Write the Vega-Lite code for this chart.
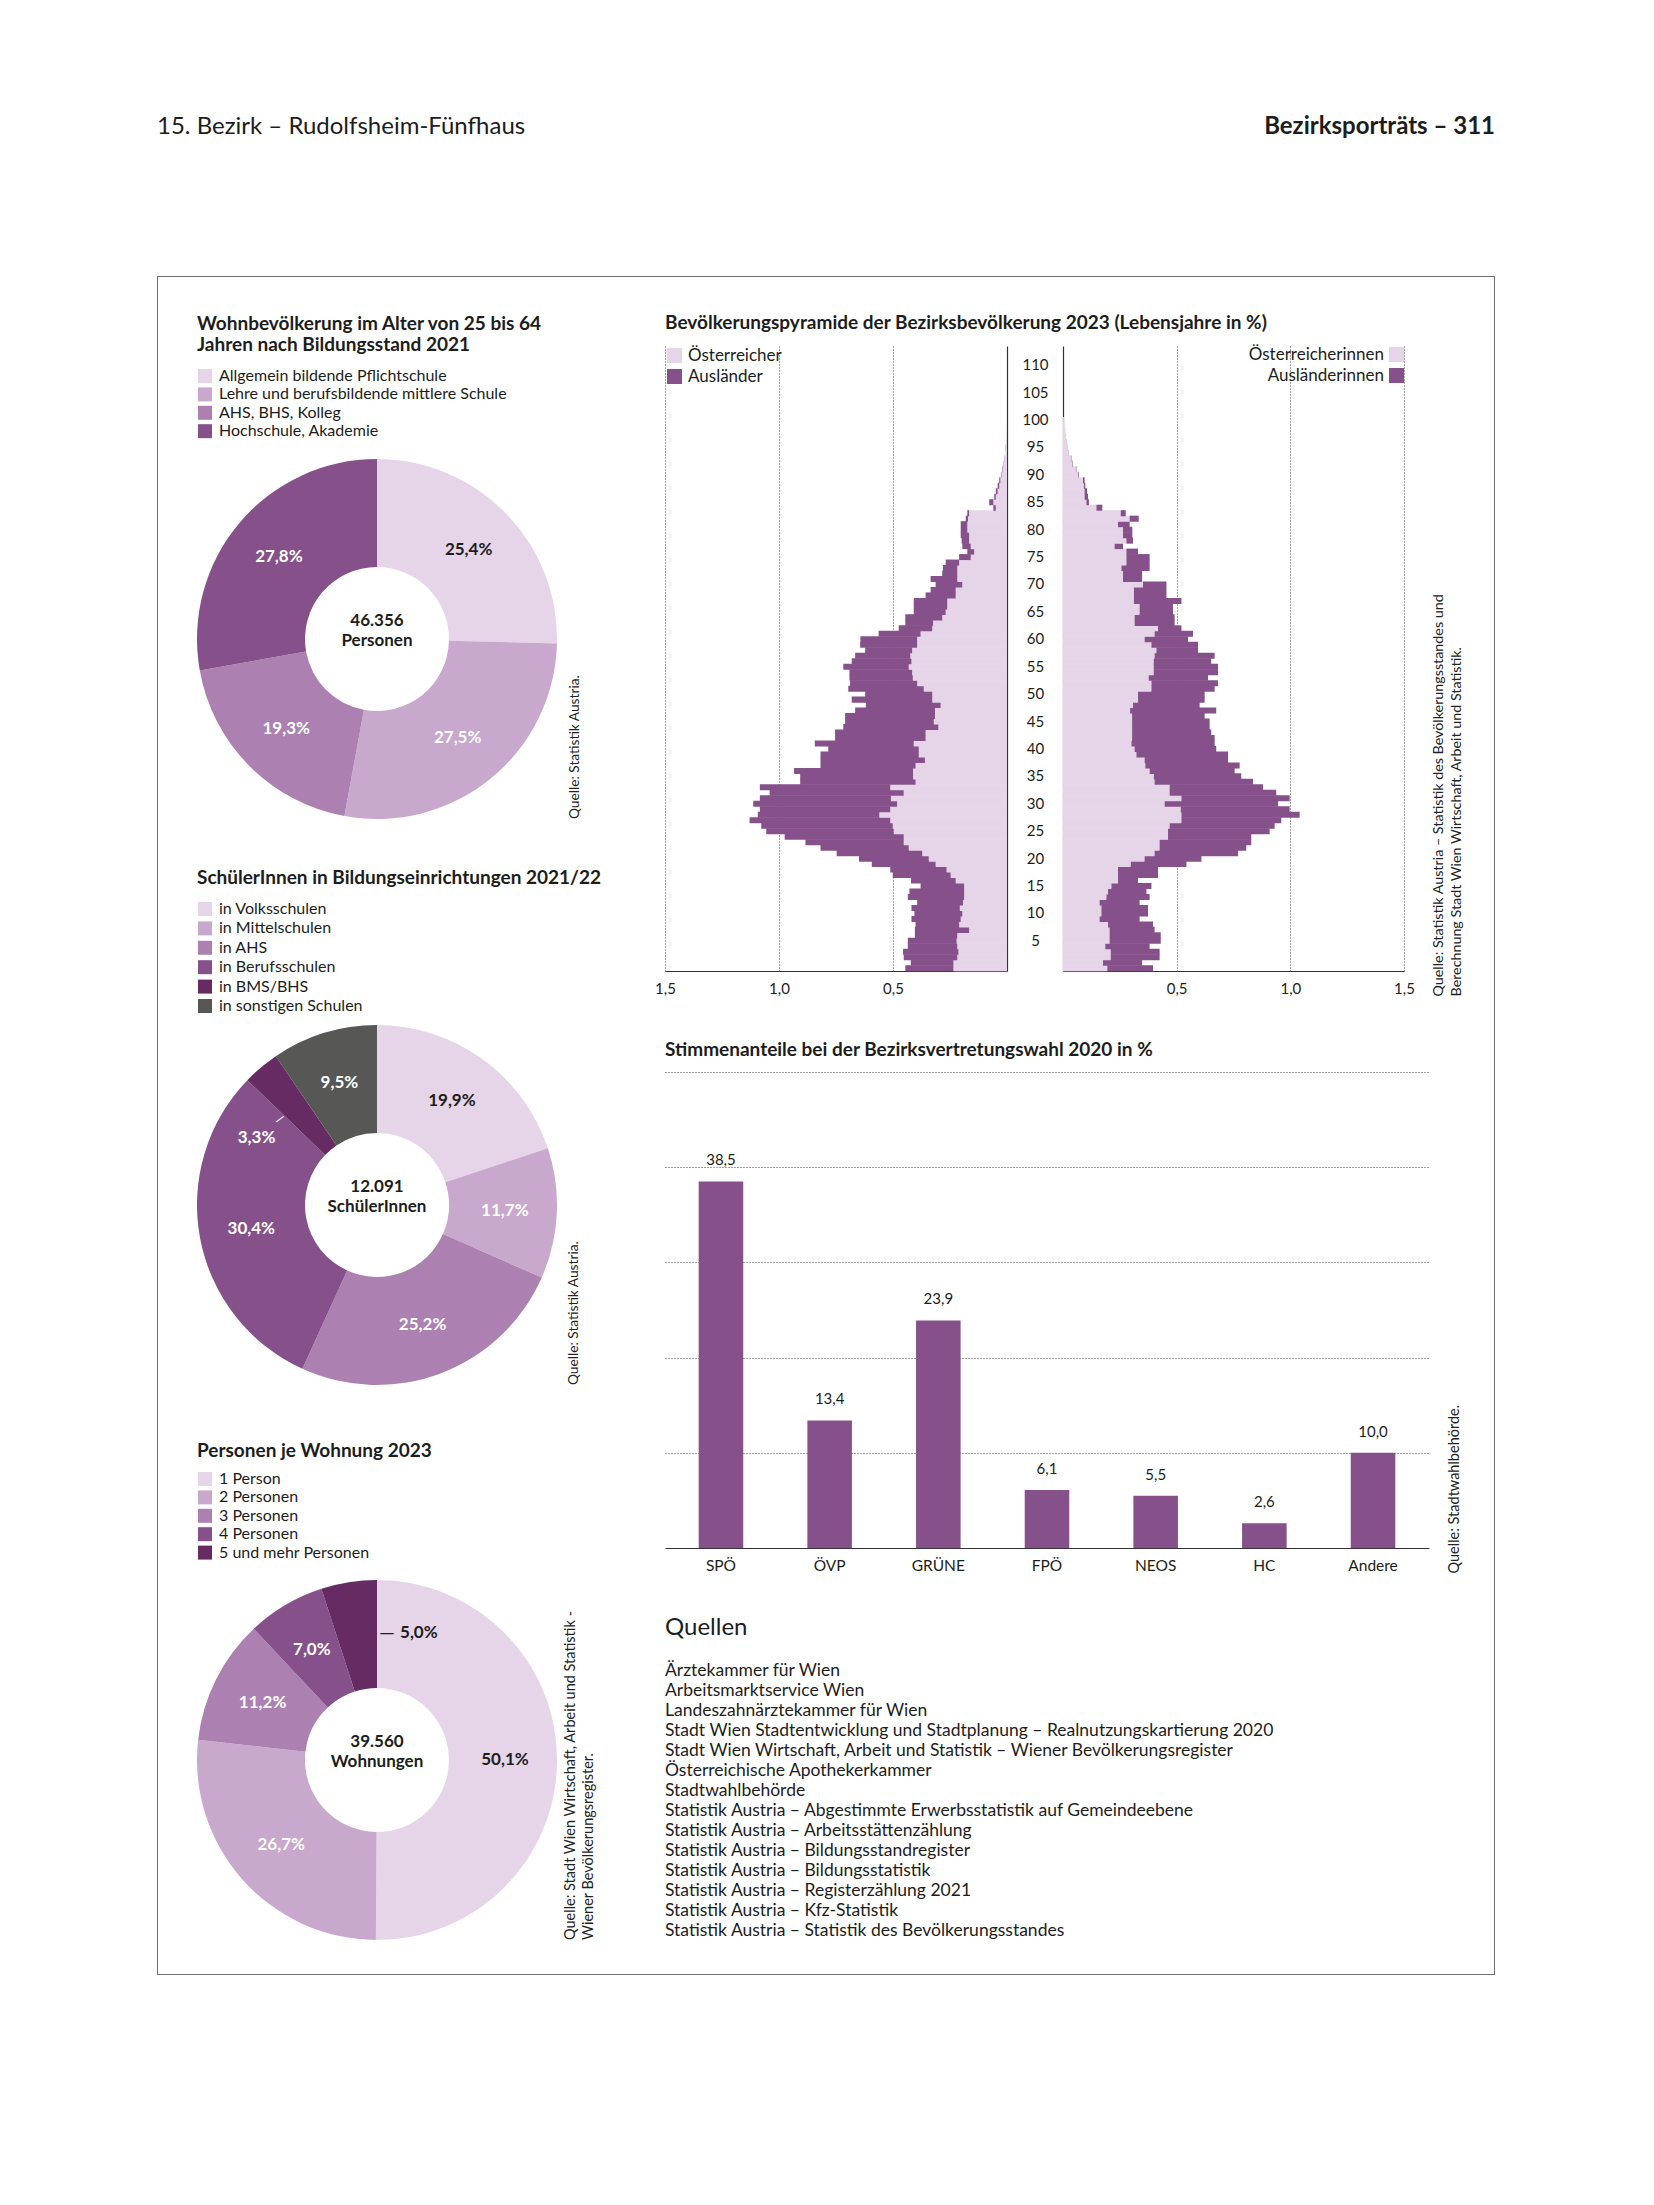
{
  "$schema": "https://vega.github.io/schema/vega-lite/v6.json",
  "padding": {"left": 157, "top": 110, "right": 20, "bottom": 20},
  "background": "white",
  "spacing": 132,
  "resolve": {"scale": {"color": "independent", "theta": "independent", "x": "independent", "y": "independent"}},
  "vconcat": [
    {
      "width": 1338, "height": 34,
      "data": {"values": [{"t": "15. Bezirk – Rudolfsheim-Fünfhaus", "p": "l"}, {"t": "Bezirksporträts – 311", "p": "r"}]},
      "encoding": {
        "x": {"field": "p", "type": "nominal", "scale": {"type": "point", "domain": ["l", "r"], "padding": 0}, "axis": null},
        "text": {"field": "t"}
      },
      "layer": [
        {"transform": [{"filter": "datum.p == 'l'"}], "mark": {"type": "text", "align": "left", "baseline": "middle", "fontSize": 24, "color": "#1d1d1b"}},
        {"transform": [{"filter": "datum.p == 'r'"}], "mark": {"type": "text", "align": "right", "baseline": "middle", "fontSize": 24, "fontWeight": "bold", "color": "#1d1d1b"}}
      ]
    },
    {
      "spacing": 0,
      "resolve": {"scale": {"color": "independent", "theta": "independent", "x": "independent", "y": "independent"}},
      "vconcat": [
        {"width": 1338, "height": 1, "view": {"fill": "#707070", "stroke": null}, "data": {"values": []}, "mark": {"type": "text"}, "encoding": {"text": {"value": ""}}},
        {
          "spacing": 0,
          "resolve": {"scale": {"color": "independent", "theta": "independent", "x": "independent", "y": "independent"}},
          "hconcat": [
            {"width": 1, "height": 1697, "view": {"fill": "#707070", "stroke": null}, "data": {"values": []}, "mark": {"type": "text"}, "encoding": {"text": {"value": ""}}},
            {
              "spacing": 20,
              "resolve": {"scale": {"color": "independent", "theta": "independent", "x": "independent", "y": "independent"}},
              "hconcat": [
                {"width": 19, "height": 1, "data": {"values": []}, "mark": {"type": "text"}, "encoding": {"text": {"value": ""}}},
                {
                  "spacing": 57,
                  "resolve": {"scale": {"color": "independent", "theta": "independent", "x": "independent", "y": "independent"}},
                  "vconcat": [
                    {
                      "spacing": 0,
                      "resolve": {"scale": {"color": "independent", "theta": "independent", "x": "independent", "y": "independent"}},
                      "vconcat": [
                        {"width": 437, "height": 38, "data": {"values": []}, "mark": {"type": "text"}, "encoding": {"text": {"value": ""}}},
                        {
                          "spacing": 50,
                          "resolve": {"scale": {"color": "independent", "theta": "independent", "x": "independent", "y": "independent"}},
                          "vconcat": [
                            {
                              "width": 360, "height": 360,
                              "title": {"text": "Quelle: Statistik Austria.", "orient": "right", "anchor": "end", "angle": 270, "align": "left", "baseline": "top", "offset": -2.5, "fontSize": 13.7, "fontWeight": "normal", "color": "#222222"},
                              "data": {"values": [
                                {"k": "Allgemein bildende Pflichtschule", "v": 25.4, "i": 1, "lab": "25,4%"},
                                {"k": "Lehre und berufsbildende mittlere Schule", "v": 27.5, "i": 2, "lab": "27,5%"},
                                {"k": "AHS, BHS, Kolleg", "v": 19.3, "i": 3, "lab": "19,3%"},
                                {"k": "Hochschule, Akademie", "v": 27.8, "i": 4, "lab": "27,8%"}
                              ]},
                              "layer": [
                                {
                                  "mark": {"type": "arc", "radius": 180, "innerRadius": 72},
                                  "encoding": {
                                    "theta": {"field": "v", "type": "quantitative", "stack": true},
                                    "order": {"field": "i", "type": "quantitative"},
                                    "color": {"field": "k", "type": "nominal",
                                      "scale": {"domain": ["Allgemein bildende Pflichtschule", "Lehre und berufsbildende mittlere Schule", "AHS, BHS, Kolleg", "Hochschule, Akademie"], "range": ["#e6d5e8", "#c8a8cc", "#ac80b1", "#86518a"]},
                                      "legend": {"title": ["Wohnbevölkerung im Alter von 25 bis 64", "Jahren nach Bildungsstand 2021"], "orient": "top", "direction": "vertical", "offset": 19.5, "titlePadding": 13, "rowPadding": 2.4}}
                                  }
                                },
                                {
                                  "mark": {"type": "text", "radius": 128, "fontSize": 17, "fontWeight": "bold"},
                                  "encoding": {
                                    "theta": {"field": "v", "type": "quantitative", "stack": true},
                                    "order": {"field": "i", "type": "quantitative"},
                                    "detail": {"field": "k"},
                                    "text": {"field": "lab"},
                                    "fill": {"condition": {"test": "datum.i == 1", "value": "#1d1d1b"}, "value": "#ffffff"}
                                  }
                                },
                                {
                                  "data": {"values": [{}]},
                                  "mark": {"type": "text", "fontSize": 17, "fontWeight": "bold", "lineHeight": 20, "dy": -18, "color": "#1d1d1b"},
                                  "encoding": {"text": {"value": ["46.356", "Personen"]}}
                                }
                              ]
                            },
                            {
                              "width": 360, "height": 360,
                              "title": {"text": "Quelle: Statistik Austria.", "orient": "right", "anchor": "end", "angle": 270, "align": "left", "baseline": "top", "offset": -48, "fontSize": 13.7, "fontWeight": "normal", "color": "#222222"},
                              "data": {"values": [
                                {"k": "in Volksschulen", "v": 19.9, "i": 1, "lab": "19,9%"},
                                {"k": "in Mittelschulen", "v": 11.7, "i": 2, "lab": "11,7%"},
                                {"k": "in AHS", "v": 25.2, "i": 3, "lab": "25,2%"},
                                {"k": "in Berufsschulen", "v": 30.4, "i": 4, "lab": "30,4%"},
                                {"k": "in BMS/BHS", "v": 3.3, "i": 5, "lab": "3,3%"},
                                {"k": "in sonstigen Schulen", "v": 9.5, "i": 6, "lab": "9,5%"}
                              ]},
                              "layer": [
                                {
                                  "mark": {"type": "arc", "radius": 180, "innerRadius": 72},
                                  "encoding": {
                                    "theta": {"field": "v", "type": "quantitative", "stack": true},
                                    "order": {"field": "i", "type": "quantitative"},
                                    "color": {"field": "k", "type": "nominal",
                                      "scale": {"domain": ["in Volksschulen", "in Mittelschulen", "in AHS", "in Berufsschulen", "in BMS/BHS", "in sonstigen Schulen"], "range": ["#e6d5e8", "#c8a8cc", "#ac80b1", "#86518a", "#672b64", "#575756"]},
                                      "legend": {"title": "SchülerInnen in Bildungseinrichtungen 2021/22", "orient": "top", "direction": "vertical", "offset": 11, "titlePadding": 13, "rowPadding": 3.4}}
                                  }
                                },
                                {
                                  "mark": {"type": "text", "radius": 128, "fontSize": 17, "fontWeight": "bold"},
                                  "encoding": {
                                    "theta": {"field": "v", "type": "quantitative", "stack": true},
                                    "order": {"field": "i", "type": "quantitative"},
                                    "detail": {"field": "k"},
                                    "text": {"condition": {"test": "datum.i == 5", "value": ""}, "field": "lab"},
                                    "fill": {"condition": {"test": "datum.i == 1", "value": "#1d1d1b"}, "value": "#ffffff"}
                                  }
                                },
                                {
                                  "mark": {"type": "text", "radius": 138, "thetaOffset": -0.361, "fontSize": 17, "fontWeight": "bold", "fill": "#ffffff"},
                                  "encoding": {
                                    "theta": {"field": "v", "type": "quantitative", "stack": true},
                                    "order": {"field": "i", "type": "quantitative"},
                                    "detail": {"field": "k"},
                                    "text": {"condition": {"test": "datum.i == 5", "field": "lab"}, "value": ""}
                                  }
                                },
                                {
                                  "mark": {"type": "text", "radius": 129.5, "thetaOffset": -0.147, "angle": 323, "fontSize": 14, "fill": "#ffffff"},
                                  "encoding": {
                                    "theta": {"field": "v", "type": "quantitative", "stack": true},
                                    "order": {"field": "i", "type": "quantitative"},
                                    "detail": {"field": "k"},
                                    "text": {"condition": {"test": "datum.i == 5", "value": "—"}, "value": ""}
                                  }
                                },
                                {
                                  "data": {"values": [{}]},
                                  "mark": {"type": "text", "fontSize": 17, "fontWeight": "bold", "lineHeight": 20, "dy": -18, "color": "#1d1d1b"},
                                  "encoding": {"text": {"value": ["12.091", "SchülerInnen"]}}
                                }
                              ]
                            }
                          ]
                        }
                      ]
                    },
                    {
                      "width": 360, "height": 360,
                      "title": {"text": ["Quelle: Stadt Wien Wirtschaft, Arbeit und Statistik -", "Wiener Bevölkerungsregister."], "orient": "right", "anchor": "end", "angle": 270, "align": "left", "baseline": "top", "lineHeight": 18, "offset": -26, "fontSize": 14.5, "fontWeight": "normal", "color": "#222222"},
                      "data": {"values": [
                        {"k": "1 Person", "v": 50.1, "i": 1, "lab": "50,1%"},
                        {"k": "2 Personen", "v": 26.7, "i": 2, "lab": "26,7%"},
                        {"k": "3 Personen", "v": 11.2, "i": 3, "lab": "11,2%"},
                        {"k": "4 Personen", "v": 7.0, "i": 4, "lab": "7,0%"},
                        {"k": "5 und mehr Personen", "v": 5.0, "i": 5, "lab": "5,0%"}
                      ]},
                      "layer": [
                        {
                          "mark": {"type": "arc", "radius": 180, "innerRadius": 72},
                          "encoding": {
                            "theta": {"field": "v", "type": "quantitative", "stack": true},
                            "order": {"field": "i", "type": "quantitative"},
                            "color": {"field": "k", "type": "nominal",
                              "scale": {"domain": ["1 Person", "2 Personen", "3 Personen", "4 Personen", "5 und mehr Personen"], "range": ["#e6d5e8", "#c8a8cc", "#ac80b1", "#86518a", "#672b64"]},
                              "legend": {"title": "Personen je Wohnung 2023", "orient": "top", "direction": "vertical", "offset": 19, "titlePadding": 10, "rowPadding": 2.4}}
                          }
                        },
                        {
                          "mark": {"type": "text", "radius": 128, "fontSize": 17, "fontWeight": "bold"},
                          "encoding": {
                            "theta": {"field": "v", "type": "quantitative", "stack": true},
                            "order": {"field": "i", "type": "quantitative"},
                            "detail": {"field": "k"},
                            "text": {"condition": {"test": "datum.i == 5", "value": ""}, "field": "lab"},
                            "fill": {"condition": {"test": "datum.i == 1", "value": "#1d1d1b"}, "value": "#ffffff"}
                          }
                        },
                        {
                          "mark": {"type": "text", "radius": 127, "thetaOffset": 0.235, "fontSize": 20, "fill": "#1d1d1b"},
                          "encoding": {
                            "theta": {"field": "v", "type": "quantitative", "stack": true},
                            "order": {"field": "i", "type": "quantitative"},
                            "detail": {"field": "k"},
                            "text": {"condition": {"test": "datum.i == 5", "value": "—"}, "value": ""}
                          }
                        },
                        {
                          "mark": {"type": "text", "radius": 128.7, "thetaOffset": 0.337, "align": "left", "fontSize": 17, "fontWeight": "bold", "fill": "#1d1d1b"},
                          "encoding": {
                            "theta": {"field": "v", "type": "quantitative", "stack": true},
                            "order": {"field": "i", "type": "quantitative"},
                            "detail": {"field": "k"},
                            "text": {"condition": {"test": "datum.i == 5", "field": "lab"}, "value": ""}
                          }
                        },
                        {
                          "data": {"values": [{}]},
                          "mark": {"type": "text", "fontSize": 17, "fontWeight": "bold", "lineHeight": 20, "dy": -18, "color": "#1d1d1b"},
                          "encoding": {"text": {"value": ["39.560", "Wohnungen"]}}
                        }
                      ]
                    }
                  ]
                },
                {
                  "spacing": 41,
                  "resolve": {"scale": {"color": "independent", "theta": "independent", "x": "independent", "y": "independent"}},
                  "vconcat": [
                    {
                      "spacing": 44,
                      "resolve": {"scale": {"color": "independent", "theta": "independent", "x": "independent", "y": "independent"}},
                      "vconcat": [
                        {
                          "spacing": 0,
                          "resolve": {"scale": {"color": "independent", "theta": "independent", "x": "independent", "y": "independent"}},
                          "vconcat": [
                            {"width": 829, "height": 37, "data": {"values": []}, "mark": {"type": "text"}, "encoding": {"text": {"value": ""}}},
                            {
                              "bounds": "flush",
                              "spacing": 56,
                              "resolve": {"scale": {"color": "independent", "x": "independent", "y": "independent"}},
                              "data": {"values": [
                                {"age":0,"ma":0.235,"mb":0.211,"fa":0.195,"fb":0.201},
                                {"age":1,"ma":0.235,"mb":0.187,"fa":0.176,"fb":0.172},
                                {"age":2,"ma":0.218,"mb":0.235,"fa":0.210,"fb":0.215},
                                {"age":3,"ma":0.213,"mb":0.243,"fa":0.210,"fb":0.215},
                                {"age":4,"ma":0.218,"mb":0.217,"fa":0.186,"fb":0.195},
                                {"age":5,"ma":0.221,"mb":0.214,"fa":0.205,"fb":0.225},
                                {"age":6,"ma":0.218,"mb":0.186,"fa":0.205,"fb":0.225},
                                {"age":7,"ma":0.166,"mb":0.238,"fa":0.205,"fb":0.198},
                                {"age":8,"ma":0.210,"mb":0.191,"fa":0.198,"fb":0.198},
                                {"age":9,"ma":0.203,"mb":0.216,"fa":0.161,"fb":0.176},
                                {"age":10,"ma":0.196,"mb":0.210,"fa":0.169,"fb":0.205},
                                {"age":11,"ma":0.207,"mb":0.212,"fa":0.169,"fb":0.205},
                                {"age":12,"ma":0.193,"mb":0.201,"fa":0.161,"fb":0.176},
                                {"age":13,"ma":0.188,"mb":0.247,"fa":0.191,"fb":0.190},
                                {"age":14,"ma":0.188,"mb":0.240,"fa":0.198,"fb":0.169},
                                {"age":15,"ma":0.188,"mb":0.191,"fa":0.213,"fb":0.176},
                                {"age":16,"ma":0.225,"mb":0.196,"fa":0.242,"fb":0.088},
                                {"age":17,"ma":0.247,"mb":0.254,"fa":0.242,"fb":0.176},
                                {"age":18,"ma":0.265,"mb":0.247,"fa":0.242,"fb":0.176},
                                {"age":19,"ma":0.313,"mb":0.280,"fa":0.298,"fb":0.245},
                                {"age":20,"ma":0.343,"mb":0.306,"fa":0.359,"fb":0.250},
                                {"age":21,"ma":0.372,"mb":0.375,"fa":0.403,"fb":0.367},
                                {"age":22,"ma":0.431,"mb":0.387,"fa":0.425,"fb":0.381},
                                {"age":23,"ma":0.453,"mb":0.431,"fa":0.425,"fb":0.403},
                                {"age":24,"ma":0.453,"mb":0.522,"fa":0.462,"fb":0.366},
                                {"age":25,"ma":0.497,"mb":0.559,"fa":0.462,"fb":0.447},
                                {"age":26,"ma":0.501,"mb":0.577,"fa":0.469,"fb":0.462},
                                {"age":27,"ma":0.512,"mb":0.617,"fa":0.521,"fb":0.439},
                                {"age":28,"ma":0.560,"mb":0.533,"fa":0.521,"fb":0.520},
                                {"age":29,"ma":0.512,"mb":0.572,"fa":0.518,"fb":0.479},
                                {"age":30,"ma":0.482,"mb":0.631,"fa":0.447,"fb":0.499},
                                {"age":31,"ma":0.509,"mb":0.575,"fa":0.521,"fb":0.476},
                                {"age":32,"ma":0.453,"mb":0.588,"fa":0.469,"fb":0.469},
                                {"age":33,"ma":0.512,"mb":0.572,"fa":0.469,"fb":0.411},
                                {"age":34,"ma":0.401,"mb":0.506,"fa":0.403,"fb":0.433},
                                {"age":35,"ma":0.412,"mb":0.495,"fa":0.400,"fb":0.384},
                                {"age":36,"ma":0.412,"mb":0.522,"fa":0.381,"fb":0.374},
                                {"age":37,"ma":0.401,"mb":0.417,"fa":0.362,"fb":0.415},
                                {"age":38,"ma":0.360,"mb":0.458,"fa":0.359,"fb":0.367},
                                {"age":39,"ma":0.387,"mb":0.431,"fa":0.323,"fb":0.403},
                                {"age":40,"ma":0.387,"mb":0.397,"fa":0.315,"fb":0.359},
                                {"age":41,"ma":0.409,"mb":0.434,"fa":0.301,"fb":0.366},
                                {"age":42,"ma":0.357,"mb":0.397,"fa":0.304,"fb":0.363},
                                {"age":43,"ma":0.357,"mb":0.397,"fa":0.304,"fb":0.348},
                                {"age":44,"ma":0.301,"mb":0.417,"fa":0.304,"fb":0.341},
                                {"age":45,"ma":0.321,"mb":0.389,"fa":0.304,"fb":0.341},
                                {"age":46,"ma":0.316,"mb":0.394,"fa":0.304,"fb":0.319},
                                {"age":47,"ma":0.316,"mb":0.350,"fa":0.295,"fb":0.379},
                                {"age":48,"ma":0.291,"mb":0.328,"fa":0.308,"fb":0.293},
                                {"age":49,"ma":0.328,"mb":0.353,"fa":0.330,"fb":0.293},
                                {"age":50,"ma":0.328,"mb":0.294,"fa":0.330,"fb":0.293},
                                {"age":51,"ma":0.365,"mb":0.331,"fa":0.389,"fb":0.278},
                                {"age":52,"ma":0.394,"mb":0.294,"fa":0.389,"fb":0.293},
                                {"age":53,"ma":0.413,"mb":0.278,"fa":0.377,"fb":0.261},
                                {"age":54,"ma":0.416,"mb":0.275,"fa":0.399,"fb":0.283},
                                {"age":55,"ma":0.431,"mb":0.287,"fa":0.399,"fb":0.283},
                                {"age":56,"ma":0.419,"mb":0.262,"fa":0.399,"fb":0.253},
                                {"age":57,"ma":0.424,"mb":0.242,"fa":0.403,"fb":0.264},
                                {"age":58,"ma":0.416,"mb":0.206,"fa":0.411,"fb":0.183},
                                {"age":59,"ma":0.394,"mb":0.250,"fa":0.389,"fb":0.205},
                                {"age":60,"ma":0.394,"mb":0.249,"fa":0.359,"fb":0.191},
                                {"age":61,"ma":0.379,"mb":0.184,"fa":0.403,"fb":0.169},
                                {"age":62,"ma":0.328,"mb":0.147,"fa":0.418,"fb":0.103},
                                {"age":63,"ma":0.324,"mb":0.122,"fa":0.315,"fb":0.176},
                                {"age":64,"ma":0.284,"mb":0.162,"fa":0.315,"fb":0.176},
                                {"age":65,"ma":0.269,"mb":0.140,"fa":0.337,"fb":0.147},
                                {"age":66,"ma":0.262,"mb":0.147,"fa":0.337,"fb":0.147},
                                {"age":67,"ma":0.262,"mb":0.147,"fa":0.312,"fb":0.209},
                                {"age":68,"ma":0.225,"mb":0.132,"fa":0.312,"fb":0.143},
                                {"age":69,"ma":0.225,"mb":0.110,"fa":0.312,"fb":0.143},
                                {"age":70,"ma":0.196,"mb":0.117,"fa":0.352,"fb":0.103},
                                {"age":71,"ma":0.218,"mb":0.117,"fa":0.264,"fb":0.084},
                                {"age":72,"ma":0.218,"mb":0.066,"fa":0.264,"fb":0.084},
                                {"age":73,"ma":0.218,"mb":0.063,"fa":0.257,"fb":0.124},
                                {"age":74,"ma":0.210,"mb":0.059,"fa":0.279,"fb":0.102},
                                {"age":75,"ma":0.159,"mb":0.051,"fa":0.279,"fb":0.102},
                                {"age":76,"ma":0.144,"mb":0.030,"fa":0.279,"fb":0.051},
                                {"age":77,"ma":0.159,"mb":0.037,"fa":0.227,"fb":0.037},
                                {"age":78,"ma":0.166,"mb":0.033,"fa":0.279,"fb":0.029},
                                {"age":79,"ma":0.166,"mb":0.037,"fa":0.264,"fb":0.041},
                                {"age":80,"ma":0.174,"mb":0.029,"fa":0.264,"fb":0.041},
                                {"age":81,"ma":0.174,"mb":0.029,"fa":0.242,"fb":0.051},
                                {"age":82,"ma":0.171,"mb":0.010,"fa":0.293,"fb":0.040},
                                {"age":83,"ma":0.166,"mb":0.008,"fa":0.254,"fb":0.022},
                                {"age":84,"ma":0.049,"mb":0.011,"fa":0.147,"fb":0.026},
                                {"age":85,"ma":0.060,"mb":0.018,"fa":0.103,"fb":0.011},
                                {"age":86,"ma":0.049,"mb":0.007,"fa":0.095,"fb":0.015},
                                {"age":87,"ma":0.041,"mb":0.008,"fa":0.095,"fb":0.011},
                                {"age":88,"ma":0.034,"mb":0.007,"fa":0.092,"fb":0.006},
                                {"age":89,"ma":0.029,"mb":0.005,"fa":0.088,"fb":0.007},
                                {"age":90,"ma":0.024,"mb":0.002,"fa":0.066,"fb":0.003},
                                {"age":91,"ma":0.020,"mb":0.002,"fa":0.057,"fb":0.002},
                                {"age":92,"ma":0.015,"mb":0.001,"fa":0.042,"fb":0.002},
                                {"age":93,"ma":0.011,"mb":0.001,"fa":0.035,"fb":0.002},
                                {"age":94,"ma":0.007,"mb":0.000,"fa":0.024,"fb":0.001},
                                {"age":95,"ma":0.005,"mb":0.001,"fa":0.018,"fb":0.001},
                                {"age":96,"ma":0.003,"mb":0.000,"fa":0.015,"fb":0.001},
                                {"age":97,"ma":0.002,"mb":0.000,"fa":0.014,"fb":0.000},
                                {"age":98,"ma":0.001,"mb":0.000,"fa":0.011,"fb":0.000},
                                {"age":99,"ma":0.001,"mb":0.000,"fa":0.007,"fb":0.000},
                                {"age":100,"ma":0.000,"mb":0.000,"fa":0.004,"fb":0.000}
                              ]},
                              "hconcat": [
                                {
                                  "width": 342, "height": 625,
                                  "title": {"text": "Bevölkerungspyramide der Bezirksbevölkerung 2023 (Lebensjahre in %)", "anchor": "start", "frame": "group", "fontSize": 19, "fontWeight": "bold", "baseline": "alphabetic", "offset": -2.4, "color": "#1d1d1b"},
                                  "transform": [{"fold": ["ma", "mb"], "as": ["key", "v"]}],
                                  "mark": {"type": "bar", "height": {"band": 1.1}},
                                  "encoding": {
                                    "y": {"field": "age", "type": "ordinal",
                                      "scale": {"domain": [113,112,111,110,109,108,107,106,105,104,103,102,101,100,99,98,97,96,95,94,93,92,91,90,89,88,87,86,85,84,83,82,81,80,79,78,77,76,75,74,73,72,71,70,69,68,67,66,65,64,63,62,61,60,59,58,57,56,55,54,53,52,51,50,49,48,47,46,45,44,43,42,41,40,39,38,37,36,35,34,33,32,31,30,29,28,27,26,25,24,23,22,21,20,19,18,17,16,15,14,13,12,11,10,9,8,7,6,5,4,3,2,1,0], "paddingInner": 0, "paddingOuter": 0},
                                      "axis": {"orient": "right", "labels": false, "ticks": false, "domain": true, "domainColor": "#333333", "domainWidth": 1.2, "grid": false, "title": null}},
                                    "x": {"field": "v", "type": "quantitative", "stack": "zero", "scale": {"domain": [0, 1.5], "reverse": true, "nice": false},
                                      "axis": {"values": [0.5, 1, 1.5], "labelExpr": "replace(format(datum.value, '.1f'), '.', ',')", "grid": true, "gridDash": [1, 2], "gridColor": "#444444", "ticks": false, "domain": true, "domainColor": "#333333", "domainWidth": 1.2, "labelPadding": 10.5, "labelFontSize": 15, "labelFlush": false, "labelOverlap": false, "title": null}},
                                    "color": {"field": "key", "type": "nominal", "scale": {"domain": ["ma", "mb"], "range": ["#e6d5e8", "#86518a"]},
                                      "legend": {"title": null, "orient": "top-left", "offset": 1, "symbolSize": 225, "labelFontSize": 17, "rowPadding": 3, "labelOffset": 5, "labelExpr": "datum.label == 'ma' ? 'Österreicher' : 'Ausländer'"}}
                                  }
                                },
                                {
                                  "width": 341, "height": 625,
                                  "title": {"text": ["Quelle: Statistik Austria – Statistik des Bevölkerungsstandes und", "Berechnung Stadt Wien Wirtschaft, Arbeit und Statistik."], "orient": "right", "anchor": "end", "angle": 270, "align": "left", "baseline": "top", "lineHeight": 18, "offset": -15, "fontSize": 14.3, "fontWeight": "normal", "color": "#222222"},
                                  "transform": [{"fold": ["fa", "fb"], "as": ["key", "v"]}],
                                  "mark": {"type": "bar", "height": {"band": 1.1}},
                                  "encoding": {
                                    "y": {"field": "age", "type": "ordinal",
                                      "scale": {"domain": [113,112,111,110,109,108,107,106,105,104,103,102,101,100,99,98,97,96,95,94,93,92,91,90,89,88,87,86,85,84,83,82,81,80,79,78,77,76,75,74,73,72,71,70,69,68,67,66,65,64,63,62,61,60,59,58,57,56,55,54,53,52,51,50,49,48,47,46,45,44,43,42,41,40,39,38,37,36,35,34,33,32,31,30,29,28,27,26,25,24,23,22,21,20,19,18,17,16,15,14,13,12,11,10,9,8,7,6,5,4,3,2,1,0], "paddingInner": 0, "paddingOuter": 0},
                                      "axis": {"orient": "left", "values": [5, 10, 15, 20, 25, 30, 35, 40, 45, 50, 55, 60, 65, 70, 75, 80, 85, 90, 95, 100, 105, 110], "labelAlign": "center", "labelBaseline": "middle", "labelPadding": 28, "ticks": false, "tickSize": 0, "domain": true, "domainColor": "#333333", "domainWidth": 1.2, "grid": false, "labelFontSize": 15, "labelOverlap": false, "title": null}},
                                    "x": {"field": "v", "type": "quantitative", "stack": "zero", "scale": {"domain": [0, 1.5], "nice": false},
                                      "axis": {"values": [0.5, 1, 1.5], "labelExpr": "replace(format(datum.value, '.1f'), '.', ',')", "grid": true, "gridDash": [1, 2], "gridColor": "#444444", "ticks": false, "domain": true, "domainColor": "#333333", "domainWidth": 1.2, "labelPadding": 10.5, "labelFontSize": 15, "labelFlush": false, "labelOverlap": false, "title": null}},
                                    "color": {"field": "key", "type": "nominal", "scale": {"domain": ["fa", "fb"], "range": ["#e6d5e8", "#86518a"]},
                                      "legend": {"title": null, "orient": "top-right", "offset": 0, "symbolSize": 225, "labelFontSize": 17, "rowPadding": 3, "labelAlign": "right", "labelOffset": -21, "labelExpr": "datum.label == 'fa' ? 'Österreicherinnen' : 'Ausländerinnen'"}}
                                  }
                                }
                              ]
                            }
                          ]
                        },
                        {
                          "title": {"text": "Stimmenanteile bei der Bezirksvertretungswahl 2020 in %", "anchor": "start", "frame": "group", "fontSize": 19, "fontWeight": "bold", "baseline": "alphabetic", "offset": -3.4, "color": "#1d1d1b"},
                          "hconcat": [
                            {
                              "width": 764, "height": 476,
                              "title": {"text": "Quelle: Stadtwahlbehörde.", "orient": "right", "anchor": "end", "angle": 270, "align": "left", "baseline": "top", "offset": 4, "fontSize": 14.5, "fontWeight": "normal", "color": "#222222"},
                              "data": {"values": [
                                {"p": "SPÖ", "v": 38.5, "lab": "38,5"},
                                {"p": "ÖVP", "v": 13.4, "lab": "13,4"},
                                {"p": "GRÜNE", "v": 23.9, "lab": "23,9"},
                                {"p": "FPÖ", "v": 6.1, "lab": "6,1"},
                                {"p": "NEOS", "v": 5.5, "lab": "5,5"},
                                {"p": "HC", "v": 2.6, "lab": "2,6"},
                                {"p": "Andere", "v": 10.0, "lab": "10,0"}
                              ]},
                              "encoding": {
                                "x": {"field": "p", "type": "nominal", "sort": null, "scale": {"paddingInner": 0.59, "paddingOuter": 0.31},
                                  "axis": {"title": null, "ticks": false, "domain": true, "domainColor": "#333333", "domainWidth": 1.2, "labelAngle": 0, "labelPadding": 10, "labelFontSize": 15.5, "grid": false}},
                                "y": {"field": "v", "type": "quantitative", "scale": {"domain": [0, 50], "nice": false},
                                  "axis": {"title": null, "labels": false, "ticks": false, "domain": false, "grid": true, "gridDash": [1, 2], "gridColor": "#444444", "gridWidth": 1, "values": [10, 20, 30, 40, 50]}}
                              },
                              "layer": [
                                {"mark": {"type": "bar", "color": "#86518a"}},
                                {"mark": {"type": "text", "baseline": "alphabetic", "dy": -16, "fontSize": 15, "color": "#1d1d1b"}, "encoding": {"text": {"field": "lab"}}}
                              ]
                            }
                          ]
                        }
                      ]
                    },
                    {
                      "width": 700, "height": 260,
                      "title": {"text": "Quellen", "anchor": "start", "frame": "group", "fontSize": 24, "fontWeight": "normal", "baseline": "alphabetic", "offset": 3.3, "color": "#1d1d1b"},
                      "data": {"values": [
                        {"n": 1, "s": "Ärztekammer für Wien"},
                        {"n": 2, "s": "Arbeitsmarktservice Wien"},
                        {"n": 3, "s": "Landeszahnärztekammer für Wien"},
                        {"n": 4, "s": "Stadt Wien Stadtentwicklung und Stadtplanung – Realnutzungskartierung 2020"},
                        {"n": 5, "s": "Stadt Wien Wirtschaft, Arbeit und Statistik – Wiener Bevölkerungsregister"},
                        {"n": 6, "s": "Österreichische Apothekerkammer"},
                        {"n": 7, "s": "Stadtwahlbehörde"},
                        {"n": 8, "s": "Statistik Austria – Abgestimmte Erwerbsstatistik auf Gemeindeebene"},
                        {"n": 9, "s": "Statistik Austria – Arbeitsstättenzählung"},
                        {"n": 10, "s": "Statistik Austria – Bildungsstandregister"},
                        {"n": 11, "s": "Statistik Austria – Bildungsstatistik"},
                        {"n": 12, "s": "Statistik Austria – Registerzählung 2021"},
                        {"n": 13, "s": "Statistik Austria – Kfz-Statistik"},
                        {"n": 14, "s": "Statistik Austria – Statistik des Bevölkerungsstandes"}
                      ]},
                      "mark": {"type": "text", "align": "left", "baseline": "middle", "fontSize": 17.5, "color": "#1d1d1b"},
                      "encoding": {
                        "x": {"datum": 0, "type": "quantitative", "scale": {"domain": [0, 1]}, "axis": null},
                        "y": {"field": "n", "type": "ordinal", "scale": {"type": "point", "padding": 0}, "axis": null},
                        "text": {"field": "s"}
                      }
                    }
                  ]
                }
              ]
            },
            {"width": 1, "height": 1697, "view": {"fill": "#707070", "stroke": null}, "data": {"values": []}, "mark": {"type": "text"}, "encoding": {"text": {"value": ""}}}
          ]
        },
        {"width": 1338, "height": 1, "view": {"fill": "#707070", "stroke": null}, "data": {"values": []}, "mark": {"type": "text"}, "encoding": {"text": {"value": ""}}}
      ]
    }
  ],
  "config": {
    "view": {"stroke": null},
    "font": "Lato",
    "title": {"color": "#1d1d1b", "font": "Lato"},
    "axis": {"labelFont": "Lato", "labelColor": "#1d1d1b", "titleFont": "Lato"},
    "legend": {"symbolType": "square", "symbolSize": 196, "symbolStrokeWidth": 0, "symbolOpacity": 1, "labelFont": "Lato", "titleFont": "Lato", "labelFontSize": 16, "titleFontSize": 19, "titleFontWeight": "bold", "titleLineHeight": 21, "labelColor": "#1d1d1b", "titleColor": "#1d1d1b", "titleLimit": 1000, "labelLimit": 1000, "padding": 0, "labelOffset": 6}
  }
}
